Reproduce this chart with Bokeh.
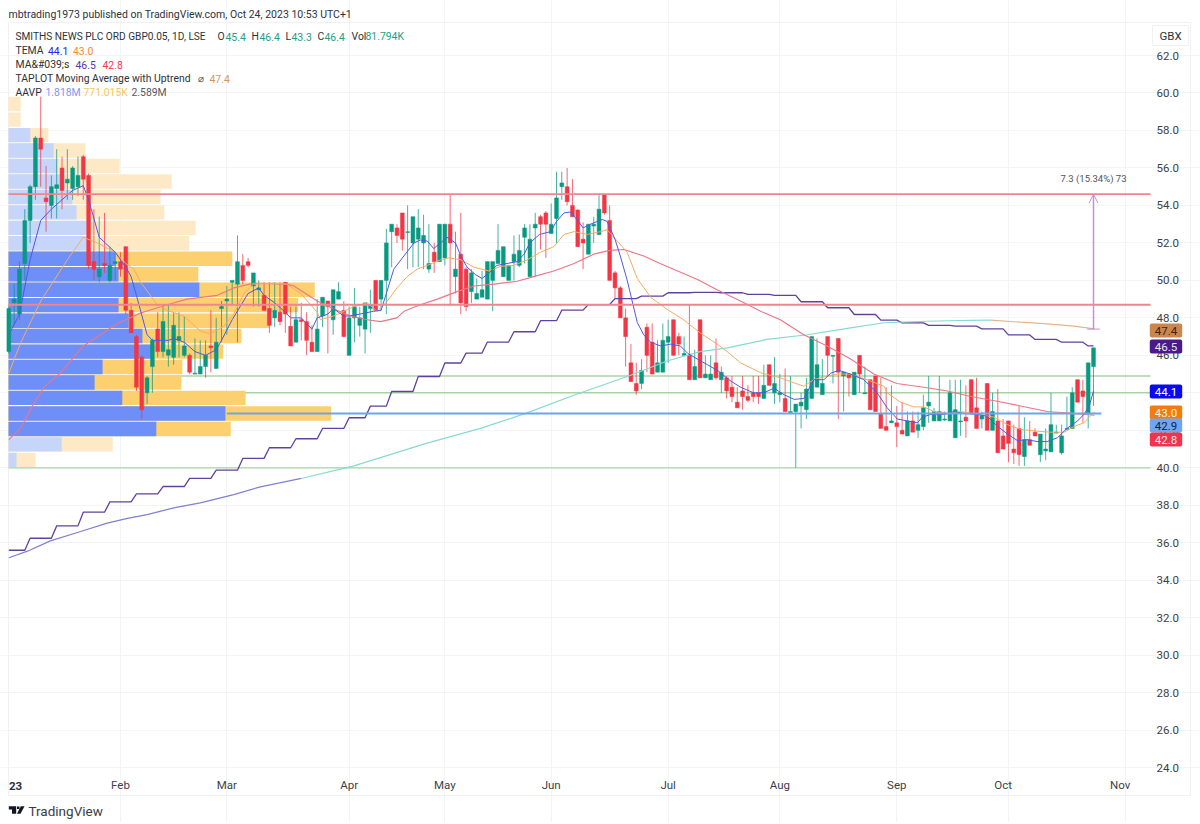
from bokeh.embed import file_html
from bokeh.resources import INLINE
from bokeh.plotting import figure
from bokeh.models import (ColumnDataSource, FixedTicker, Label, Arrow, OpenHead, LinearAxis, Grid,
                          PolyAnnotation, Range1d, NumeralTickFormatter)

# ---- candles (daily bars; index -1 is the first visible session) ----
bar_index = list(range(-1, 204))
open_px = [46.2,48.8,48.2,50.9,53.2,55.0,57.6,54.4,54.0,54.9,
 56.0,55.2,54.9,55.0,56.6,55.6,51.0,50.2,50.9,50.0,
 50.9,51.0,51.8,48.4,47.0,45.9,44.0,45.4,47.4,46.2,
 46.0,45.9,46.8,46.0,46.0,45.0,45.0,45.4,46.5,45.3,
 48.5,48.9,49.9,49.8,50.8,51.0,49.7,49.5,49.2,48.5,
 48.0,48.3,49.9,47.55,46.7,47.9,47.8,46.7,46.2,48.1,
 48.9,47.9,49.0,48.4,46.0,48.0,47.6,47.4,48.5,50.0,
 49.0,50.0,52.6,52.8,53.6,52.55,52.0,52.2,52.0,50.6,
 51.5,51.0,51.2,53.0,50.2,51.4,50.6,49.4,49.0,49.1,
 49.0,50.0,50.9,50.2,50.0,51.0,50.8,52.3,50.2,52.8,
 53.4,53.6,52.5,53.3,55.0,55.0,54.0,53.75,52.2,51.4,
 52.9,52.45,54.6,53.2,50.4,49.6,48.0,45.6,44.5,44.5,
 47.5,46.7,45.1,45.1,46.7,47.9,47.0,46.0,46.0,44.7,
 47.9,44.8,44.7,45.6,44.7,44.8,44.3,43.5,44.1,43.8,
 44.0,44.0,43.7,45.5,44.0,43.9,43.7,42.95,43.0,43.3,
 43.1,43.7,44.3,43.9,47.0,45.95,46.9,44.9,45.0,43.9,
 46.0,43.95,44.7,44.9,42.9,42.2,42.4,42.4,42.0,41.7,
 42.5,42.0,42.2,43.3,42.5,42.5,42.55,42.5,41.6,42.45,
 42.7,44.7,43.2,42.6,44.5,42.0,42.5,41.7,42.5,41.0,
 42.1,40.6,41.5,41.9,40.7,40.9,40.85,41.85,40.8,42.05,
 42.1,44.7,44.1,42.9,45.4]
high_px = [48.6,49.8,51.0,53.8,55.1,57.7,59.8,56.1,55.6,57.0,
 56.6,57.0,56.1,56.6,56.7,55.7,53.8,53.4,53.6,51.8,
 51.5,51.5,51.8,48.8,47.1,46.0,44.9,46.9,48.3,48.7,
 48.7,48.3,48.3,48.1,46.1,46.9,46.8,46.8,48.4,48.0,
 48.9,49.7,50.0,52.4,51.4,51.2,50.4,50.0,49.9,49.9,
 49.9,49.9,49.9,48.6,48.6,48.8,48.3,47.6,49.0,49.1,
 48.9,49.5,49.9,48.9,48.6,49.6,48.6,48.8,49.5,50.0,
 50.0,52.75,53.0,53.0,53.6,54.0,53.4,53.8,53.5,53.0,
 52.0,53.0,53.0,54.6,52.6,53.6,50.7,50.6,50.1,50.5,
 51.0,51.0,53.0,51.8,50.8,52.4,52.45,53.0,53.0,53.6,
 53.5,53.7,54.1,55.8,55.8,56.0,55.4,53.8,53.1,53.0,
 53.4,54.6,54.6,54.0,50.5,49.7,48.5,46.6,45.6,45.8,
 47.7,47.7,46.8,47.7,47.9,47.9,47.2,47.0,48.7,46.3,
 47.9,46.0,46.0,46.9,45.4,44.9,44.9,44.3,44.9,44.4,
 44.9,44.9,45.5,45.5,45.9,45.0,45.3,44.9,43.4,44.0,
 44.8,47.0,46.9,45.8,47.0,46.0,46.9,45.1,45.0,45.1,
 46.0,45.4,44.7,44.9,44.8,44.3,44.4,43.3,43.5,43.0,
 43.0,43.0,43.9,44.9,43.2,44.9,43.0,44.7,44.7,44.7,
 44.4,44.7,44.8,43.0,44.5,44.0,44.2,42.6,42.5,42.3,
 43.3,42.7,42.5,42.1,41.8,42.1,44.0,42.3,42.3,43.8,
 44.3,44.7,44.7,45.6,46.4]
low_px = [46.1,47.6,47.9,50.0,52.0,54.3,55.0,52.6,53.3,53.3,
 53.8,54.3,54.3,54.5,54.3,50.6,50.0,49.9,50.4,49.9,
 50.0,50.2,48.2,47.2,44.1,42.6,43.4,44.0,45.9,45.9,
 45.4,45.5,45.9,45.9,45.0,45.0,45.0,44.8,45.1,45.3,
 46.7,47.1,48.7,46.7,49.8,50.7,48.6,48.6,48.4,47.2,
 47.5,47.6,47.2,46.5,46.7,46.8,46.0,46.2,46.2,47.5,
 46.1,47.1,49.0,47.0,46.0,46.7,47.0,46.1,47.2,48.4,
 48.4,48.2,50.7,52.0,51.6,50.6,50.7,50.7,50.6,50.4,
 50.4,51.0,50.8,48.65,49.3,48.2,48.35,48.8,49.0,49.1,
 49.0,48.35,50.9,50.2,50.0,50.0,50.7,50.9,50.2,50.2,
 51.65,51.2,52.5,52.0,54.3,54.0,53.4,51.8,50.6,51.4,
 52.0,52.45,53.5,50.0,49.0,48.0,45.4,44.6,43.9,44.2,
 45.1,45.0,45.1,45.1,45.6,46.0,46.0,46.0,44.7,44.7,
 44.8,44.8,44.7,44.7,44.0,43.7,43.5,43.2,43.1,43.5,
 43.5,43.4,43.7,44.4,43.4,43.5,43.0,42.95,40.0,42.1,
 42.6,43.7,44.3,43.9,44.9,44.5,42.6,43.0,43.8,43.9,
 44.0,43.95,43.1,43.0,42.1,42.0,42.4,41.1,41.8,41.7,
 41.9,41.6,42.0,42.4,42.5,42.5,42.5,42.5,41.6,41.7,
 41.6,42.9,42.1,42.1,42.0,42.0,40.8,41.0,40.3,40.2,
 40.1,40.1,41.2,41.7,40.3,40.4,40.85,41.85,40.7,42.05,
 42.1,43.5,42.4,42.1,43.3]
close_px = [48.5,49.0,50.6,53.2,55.0,57.6,57.0,54.2,55.0,55.1,
 54.8,55.4,56.0,55.6,55.4,50.8,50.6,50.6,50.8,50.8,
 51.0,50.6,48.4,47.2,44.3,43.1,44.8,46.8,46.2,47.8,
 46.3,47.6,47.0,46.5,45.1,45.05,45.4,46.0,46.4,46.7,
 48.6,49.0,50.0,51.0,50.0,50.8,50.4,49.6,48.4,47.6,
 48.4,47.8,48.2,46.5,47.9,47.8,46.8,46.2,47.4,49.1,
 48.6,49.5,49.4,47.0,48.0,48.6,48.0,48.8,48.7,48.4,
 50.0,52.0,53.0,52.4,52.2,52.6,53.4,52.8,52.4,50.9,
 51.0,53.0,53.0,52.0,50.6,48.8,48.6,50.4,49.3,49.5,
 51.0,51.0,51.6,51.8,50.8,51.4,51.6,52.8,52.2,53.0,
 53.0,53.0,53.0,54.4,55.2,54.2,53.4,51.8,52.0,53.0,
 53.0,53.8,53.6,50.0,49.6,48.0,47.0,44.6,44.1,45.2,
 46.0,45.0,45.6,46.8,47.0,46.0,46.6,46.1,44.7,45.4,
 44.8,45.0,45.0,44.8,45.1,44.1,43.8,43.2,43.8,43.6,
 43.8,43.8,44.4,44.4,44.5,44.0,43.0,43.0,43.4,43.5,
 44.2,47.0,45.5,44.5,46.0,46.0,45.1,45.1,44.8,45.1,
 45.0,44.0,43.1,43.0,42.1,42.0,42.5,42.2,41.8,42.5,
 41.9,42.3,43.2,43.5,43.0,43.0,42.6,44.0,43.1,42.5,
 42.5,42.9,42.1,42.8,42.0,43.0,40.8,41.0,41.3,40.8,
 40.7,41.5,41.2,41.7,41.8,41.0,42.3,41.9,41.7,42.1,
 44.0,43.5,43.8,45.6,46.4]

# ---- TEMA fast (blue) ----
tema_fast_x = [-1,1,3,5,7,9,11,13,14,16,19,21,22,23,25,26,29,30,32,34,36,38,39,41,44,46,47,49,51,52,54,56,57,59,60,62,63,65,
 67.6,69,70,71.4,73.3,75.2,76.4,77.7,78.9,80.2,81.4,83,84,85.2,86.8,88,89.3,90.8,92.7,94.6,95.9,97,98.8,100.9,101.9,103.4,104.6,106,107,108.4,110.6,111.5,113,114,115.3,
 117.2,118.4,119.7,121.6,123.5,125.3,126.7,128.5,130.4,132.5,134.4,136.6,139.1,141,142.9,144.8,146.7,148.5,150.4,152.3,153.6,155.1,157.3,159.8,162.3,164.2,166.1,168,169.9,170.8,172.4,174.9,176.8,178.6,181.1,183,184.6,186.8,188.7,190.5,192.4,194.3,196.2,198,200,201.2,202.2,203]
tema_fast_y = [47.1,48.2,51.1,53.2,53.8,54.3,54.8,55.05,54.3,52.3,51.5,50.7,50.2,49.2,47.1,46.8,46.8,46.9,46.7,46.2,46.0,46.3,46.8,47.9,49.3,49.6,49.2,48.8,48.3,48.0,48.0,47.4,48.0,48.2,48.5,48.1,48.1,48.2,
 48.35,48.4,49.3,50.6,51.3,52.0,52.15,52.1,51.7,52.0,52.3,52.0,51.3,50.7,50.3,50.1,50.4,50.8,50.9,51.0,51.4,52.0,52.45,52.6,53.1,53.6,53.65,53.2,52.8,53.0,53.25,53.15,52.2,51.3,50.0,
 47.75,47.1,46.7,46.5,46.6,46.5,46.1,45.8,45.5,45.15,44.7,44.3,44.0,44.0,44.25,43.9,43.65,43.7,44.7,44.7,45.05,45.2,45.0,44.7,44.0,43.2,42.6,42.5,42.4,42.7,42.85,42.85,43.0,42.9,42.85,42.75,42.3,41.8,41.45,41.5,41.4,41.4,41.6,42.1,42.5,42.85,43.3,44.1]

# ---- TEMA slow (orange) ----
tema_slow_x = [-1,1.2,5,10,13,15.6,19,21,22.5,23.8,26.9,28.8,31.9,35,36.9,39.4,41.3,43.2,45,48.8,51.3,53.9,57,57.6,60.1,63.9,66.4,68.3,70.2,72,73.9,75.8,77.7,80.2,81.8,84,86.5,89.3,91.5,94,96.5,99,101.5,103.4,105.3,107.8,110.3,111.5,112.8,115.3,117.2,119.7,122.8,125.9,129,132.2,134.1,136.6,140.4,144.1,148.5,150.4,152.9,154.8,157.3,160.4,163.6,164.2,166.7,169.2,171.1,173,175.5,178,181.1,184.3,186.8,189.3,192.4,194.9,197.5,199.3,201.2,203.2]
tema_slow_y = [45.06,46.65,48.9,51.1,52.3,52.0,51.5,50.9,50.6,49.9,48.7,48.4,48.1,47.3,47.15,47.55,48.2,49.3,49.8,49.85,49.8,49.3,48.3,47.9,48.1,48.6,48.8,48.35,48.9,49.6,50.2,50.6,50.8,51.1,51.2,51.1,50.7,50.5,50.75,50.8,51.1,51.5,51.8,52.45,52.6,52.45,52.6,52.7,52.3,51.5,50.1,49.1,48.45,47.9,47.2,46.6,46.2,45.6,45.07,44.8,44.35,44.7,44.9,45.0,45.0,44.7,44.35,44.0,43.5,43.25,43.25,43.0,42.9,43.0,42.85,42.7,42.3,42.05,41.95,41.9,41.9,42.2,42.4,43.0]

# ---- MA (red, thin) ----
ma_red_x = [-1,1.2,3.7,5.6,8.7,13,16.2,19.4,23.8,28.8,32.5,38.2,41.3,45,51.3,52.6,57,60.7,63.3,66.4,68.9,72,73.3,76.4,79.6,83.3,86.5,90.2,94.6,97.7,101.5,105.3,109,112,114.7,118.4,121.5,128.5,132.2,136.6,140.4,144.1,148.5,152.9,157.3,161.7,166,171.1,175.5,179.9,184.9,189.3,194.3,199.3,203.2]
ma_red_y = [41.5,42.1,43.45,44.3,45.05,46.5,47.1,47.7,48.26,48.7,49.0,49.2,49.6,49.85,49.8,49.7,48.9,48.4,48.1,47.9,47.8,48.0,48.35,48.7,49.0,49.4,49.7,49.8,49.95,50.2,50.5,50.9,51.4,51.6,51.65,51.3,50.9,50.05,49.5,48.9,48.35,47.9,47.1,46.5,45.8,45.0,44.5,44.3,44.1,43.8,43.55,43.3,43.0,42.9,42.8]

# ---- MA (purple, weekly steps): first bar, last bar, level ----
step_first = [-1,3,8,13,18,23,28,33,38,43,48,53,58,63,67,71,76,81,85,89,94,99,103,108,113,118,123,128,133,138,143,148,153,158,163,167,172,177,182,187,192,197,202]
step_last  = [2,7,12,17,22,27,32,37,42,47,52,57,62,66,70,75,80,84,88,93,98,102,107,112,117,122,127,132,137,142,147,152,157,162,166,171,176,181,186,191,196,201,203]
step_level = [35.6,36.24,36.9,37.63,38.18,38.61,39.0,39.43,39.87,40.5,41.07,41.55,42.1,42.67,43.29,44.07,44.87,45.59,46.12,46.71,47.26,47.85,48.41,48.71,49.03,49.16,49.34,49.36,49.34,49.25,49.2,48.86,48.54,48.18,47.88,47.73,47.6,47.56,47.41,47.09,46.85,46.7,46.5]

# ---- TAPLOT moving average with uptrend ----
taplot_a_x = [-1,2.5,6.8,12.5,17.5,21.3,25,30,35,41.3,46.3,54]
taplot_a_y = [35.2,35.55,36.1,36.6,37.05,37.3,37.5,37.86,38.13,38.57,38.98,39.43]
taplot_b_x = [54,63.9,77.5,87.7,96.2,105.9,115.6,122.8,129,134.1,141.6,149.2,157.3,163.6,171.7,177.4,183.6]
taplot_b_y = [39.43,40.1,41.3,42.1,42.9,43.94,44.9,45.7,46.2,46.4,46.85,47.1,47.47,47.74,47.82,47.86,47.88]
taplot_c_x = [183.6,189.3,194.3,199.3,203.2]
taplot_c_y = [47.88,47.77,47.68,47.56,47.41]

# ---- visible range volume profile (row centre, up part, total) ----
vp_center = [40.42,41.25,42.07,42.9,43.73,44.55,45.38,46.2,47.03,47.85,48.68,49.5,50.33,51.15,51.98,52.8,53.63,54.45,55.28,56.1,56.93,57.75,58.58,59.41]
vp_up     = [1.5,10,27.8,40.8,21.4,16.2,17.7,27.3,25.2,22.6,20.7,35.9,20.7,20.1,14.9,14.7,12.8,12,9.8,9.2,8.5,4.1,0,0]
vp_total  = [5.1,19.6,41.8,60.7,44.6,32.5,32.7,40.4,43.8,49.1,54.5,57.6,35.7,42.1,34,35.2,29.3,28.6,30.7,20.9,14.5,7.5,2.3,2.3]
vp_value_area = [False,False]+[True]*12+[False]*10

# ---- horizontal levels ----
red_levels = [54.6,48.7]
green_levels = [44.9,44.0,40.0]
poc_level = 42.9
poc_first = 40
poc_last = 204.5

# ---- axes ----
month_grid = [20,40,63,81,101,123,144,166,187,209]
month_label_pos = [20,40,63,81,101,123,144,166,186,208]
month_labels = ["Feb","Mar","Apr","May","Jun","Jul","Aug","Sep","Oct","Nov"]
price_ticks = list(range(24,64,2))

# ---- measure ----
measure_bar = 203
measure_from = 47.4
measure_to = 54.6
measure_text = "7.3 (15.34%) 73"

# ---- price tags: text, fill, text colour, page y ----
tag_text = ["47.4","46.5","44.1","43.0","42.9","42.8"]
tag_fill = ["#c9874f","#4b1a8a","#0a0aee","#f57c0c","#6fa5f2","#ef3350"]
tag_ink  = ["#3a2410","#e9e4f4","#ffffff","#fff3e0","#10233f","#ffe8ec"]
tag_y    = [330,346,391,412,425,439]

FONT = "Roboto"
W, H = 1200, 822
LEFT, RIGHT, TOP, BOTTOM = 8, 1150, 22, 771
PX_PER_BAR = 5.317
PX_PER_UNIT = 18.74
def bx(px): return (px-13.66)/PX_PER_BAR
def py_(py): return 62-(py-55)/PX_PER_UNIT
xl, xr = bx(LEFT), bx(RIGHT)

p = figure(width=W, height=H, output_backend="svg", toolbar_location=None,
           x_range=Range1d(bx(0),bx(W)), y_range=Range1d(py_(H),py_(0)),
           x_axis_type=None, y_axis_type=None,
           min_border_left=0, min_border_right=0, min_border_top=0, min_border_bottom=0,
           outline_line_color=None, background_fill_color="#ffffff", border_fill_color="#ffffff")

xax = LinearAxis(fixed_location=py_(BOTTOM), ticker=FixedTicker(ticks=month_label_pos),
                 major_label_overrides=dict(zip(month_label_pos,month_labels)))
yax = LinearAxis(fixed_location=xr, ticker=FixedTicker(ticks=price_ticks),
                 formatter=NumeralTickFormatter(format="0.0"))
p.add_layout(xax,"below")
p.add_layout(yax,"right")
for ax in (xax,yax):
    ax.axis_line_color=None
    ax.major_tick_line_color=None
    ax.minor_tick_line_color=None
    ax.major_label_text_font=FONT
    ax.major_label_text_font_size="11.5px"
    ax.major_label_text_color="#3c3f48"
xax.major_label_standoff = 0
yax.major_label_standoff = 0
p.add_layout(Grid(dimension=0,ticker=FixedTicker(ticks=month_grid),bounds=(py_(BOTTOM-3),py_(TOP)),grid_line_color="#f3f4f7"))
p.add_layout(Grid(dimension=1,ticker=yax.ticker,bounds=(xl,xr),grid_line_color="#f3f4f7"))

# green levels behind the profile
for v in green_levels:
    p.segment([xl],[v],[xr],[v],line_color="#a9d3a6",line_width=1.6 if v>41 else 1.2)

# volume profile
row_h = 0.77
vp_src = ColumnDataSource(dict(y=vp_center,
    up=[xl+v for v in vp_up], total=[xl+v for v in vp_total],
    cu=["#6d8ff7" if a else "#c6d6fb" for a in vp_value_area],
    ct=["#fcd06f" if a else "#fde9c6" for a in vp_value_area]))
p.hbar(y="y",left=xl,right="total",height=row_h,fill_color="ct",line_color=None,source=vp_src)
p.hbar(y="y",left=xl,right="up",height=row_h,fill_color="cu",line_color=None,source=vp_src)

# candles
col = ["#089981" if c>=o else "#f23645" for o,c in zip(open_px,close_px)]
src = ColumnDataSource(dict(x=bar_index,o=open_px,h=high_px,l=low_px,c=close_px,col=col,
    top=[max(a,b) for a,b in zip(open_px,close_px)],bot=[min(a,b) for a,b in zip(open_px,close_px)]))
p.segment("x","h","x","l",source=src,line_color="col",line_width=1,line_alpha=0.75)
p.vbar("x",width=0.72,top="top",bottom="bot",source=src,fill_color="col",line_color="col",line_width=0.5)

# indicators
p.line([a for f,l in zip(step_first,step_last) for a in (f,l)],
       [a for v in step_level for a in (v,v)],line_color="#5f419f",line_width=1.3)
p.line(taplot_a_x,taplot_a_y,line_color="#7f80d2",line_width=1.2)
p.line(taplot_b_x,taplot_b_y,line_color="#86d9d2",line_width=1.2)
p.line(taplot_c_x,taplot_c_y,line_color="#e5b48c",line_width=1.2)
p.line(ma_red_x,ma_red_y,line_color="#ee7585",line_width=1.1)
p.line(tema_slow_x,tema_slow_y,line_color="#f6ab62",line_width=1)
p.line(tema_fast_x,tema_fast_y,line_color="#5058e4",line_width=1)

# levels over the chart
for v in red_levels:
    p.segment([xl],[v],[xr],[v],line_color="#f0858f",line_width=1.8)
p.segment([poc_first],[poc_level],[poc_last],[poc_level],line_color="#6fa5e6",line_width=2)

# measure
p.add_layout(Arrow(end=OpenHead(line_color="#c58fd9",line_width=1,size=9),x_start=measure_bar,y_start=measure_from,
    x_end=measure_bar,y_end=measure_to,line_color="#c58fd9",line_width=1.5))
p.segment([measure_bar-1.2],[measure_from],[measure_bar+1.2],[measure_from],line_color="#c58fd9",line_width=1)

def T(text,px,py,color="#2e3239",size=10.4,style="normal",align="left"):
    p.add_layout(Label(x=px,y=H-py,x_units="screen",y_units="screen",text=text,text_color=color,
        text_font=FONT,text_font_size=f"{size}px",text_font_style=style,text_align=align,text_baseline="middle"))

T("mbtrading1973 published on TradingView.com, Oct 24, 2023 10:53 UTC+1",8,14,size=10.5)
G="#21a085"
T("SMITHS NEWS PLC ORD GBP0.05, 1D, LSE",15,36,size=10.15)
for t,x,c in [("O",217,"#2e3239"),("45.4",225,G),("H",251,"#2e3239"),("46.4",259,G),("L",285,"#2e3239"),("43.3",291,G),
              ("C",317,"#2e3239"),("46.4",324,G),("Vol",351,"#2e3239"),("81.794K",365,G)]:
    T(t,x,36,c)
T("TEMA",15,50); T("44.1",47.5,50,"#2222dd"); T("43.0",72.5,50,"#f08c28")
T("MA&#039;s",15,64); T("46.5",75,64,"#5a35a5"); T("42.8",102,64,"#ee3a55")
T("TAPLOT Moving Average with Uptrend",15,78); T("\u2300",197,78,"#4a4a50"); T("47.4",209,78,"#d8955c")
T("AAVP",15,92); T("1.818M",45,92,"#7f98ee"); T("771.015K",83,92,"#f3c95c"); T("2.589M",131,92,"#55585f")

T("23",15,785,"#2e3239",11.5,"bold","center")
T("GBX",1170,35,"#2e3239",11.5,"normal","center")
T(measure_text,1093,178,"#50535a",9.5,"normal","center")
T("TradingView",28,810,"#3a3d44",13.5)

for t,f,i,y in zip(tag_text,tag_fill,tag_ink,tag_y):
    p.add_layout(Label(x=1165.5,y=H-y,x_units="screen",y_units="screen",text=t,text_color=i,
        text_font=FONT,text_font_size="11.5px",text_align="center",text_baseline="middle",
        background_fill_color=f,padding=[5,3],border_radius=2))

# frame and logo (page pixels)
def PA(pts,fill=None,line=None):
    p.add_layout(PolyAnnotation(xs=[a for a,b in pts],ys=[H-b for a,b in pts],xs_units="screen",ys_units="screen",
        fill_color=fill,fill_alpha=1 if fill else 0,line_color=line,line_alpha=1 if line else 0,line_width=1,level="underlay"))
PA([(8,22),(1190,22),(1190,795),(8,795)],None,"#eff1f5")
PA([(1152,25),(1188,25),(1188,45),(1152,45)],None,"#eff1f5")
PA([(8.3,805.7),(15.7,805.7),(15.7,813.3),(11.5,813.3),(11.5,809),(8.3,809)],"#131722")
PA([(16.5,806),(19,806),(19,808.5),(16.5,808.5)],"#131722")
PA([(24,805.7),(20,813.3),(16.5,813.3),(20.3,805.7)],"#131722")

open("out.html","w").write(file_html(p,INLINE))
